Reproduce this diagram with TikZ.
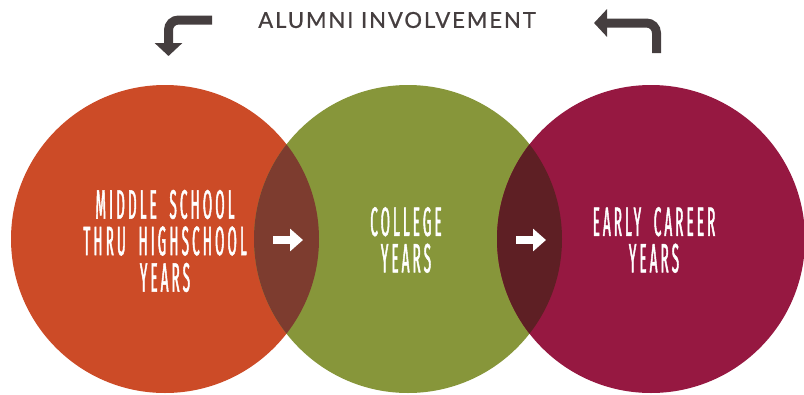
\documentclass[tikz,border=0pt]{standalone}
\usepackage{fontspec}
\setmainfont{Lato}
\newfontfamily\headfont[LetterSpace=9,FakeBold=0.8]{Lato}
\newfontfamily\tallfont[FakeStretch=0.33,FakeBold=1.1,LetterSpace=7.5,WordSpace=1.9]{Fira Sans}
\usetikzlibrary{calc,arrows.meta}
\definecolor{schoolred}{HTML}{CC4B27}
\definecolor{collegegreen}{HTML}{87963A}
\definecolor{careerred}{HTML}{961841}
\definecolor{lensa}{HTML}{7D3C2F}
\definecolor{lensb}{HTML}{5E1F24}
\definecolor{inkgray}{HTML}{453E3F}

\begin{document}
\begin{tikzpicture}[x=1pt,y=-1pt,
    turnarrow/.style={draw=inkgray,line width=9pt,rounded corners=10pt,-{Triangle[width=27pt,length=13pt]}},
    flow/.style={draw=white,line width=8pt,-{Triangle[width=22pt,length=13pt]}},
    stage/.style={text=white,font=\tallfont\fontsize{41}{36.5}\selectfont,align=center}]
    \useasboundingbox (0,0) rectangle (804,394);
    % circles
    \coordinate (ms) at (165,239);
    \coordinate (cy) at (408,239);
    \coordinate (ec) at (651,239);
    \fill[schoolred] (ms) circle [radius=154pt];
    \fill[collegegreen] (cy) circle [radius=154pt];
    \fill[careerred] (ec) circle [radius=154pt];
    \begin{scope}
        \clip (ms) circle [radius=154pt];
        \fill[lensa] (cy) circle [radius=154pt];
    \end{scope}
    \begin{scope}
        \clip (cy) circle [radius=154pt];
        \fill[lensb] (ec) circle [radius=154pt];
    \end{scope}
    % labels
    \node[stage] (school) at (165,241) {MIDDLE SCHOOL\\THRU HIGHSCHOOL\\YEARS};
    \node[stage] (college) at (406,240) {COLLEGE\\YEARS};
    \node[stage] (career) at (654,240) {EARLY CAREER\\YEARS};
    \coordinate (f1s) at (273,240);
    \coordinate (f1e) at (303,240);
    \coordinate (f2s) at (516,240);
    \coordinate (f2e) at (546,240);
    \draw[flow] (f1s) -- (f1e);
    \draw[flow] (f2s) -- (f2e);
    % alumni involvement
    \node[text=inkgray,font=\headfont\fontsize{22}{24}\selectfont] (alumni) at (397,20) {ALUMNI INVOLVEMENT};
    \coordinate (b1s) at (212,20);
    \coordinate (b1e) at (168.5,56);
    \coordinate (b2s) at (656.5,53);
    \coordinate (b2e) at (594,23);
    \draw[turnarrow] (b1s) -| (b1e);
    \draw[turnarrow] (b2s) |- (b2e);
\end{tikzpicture}
\end{document}
